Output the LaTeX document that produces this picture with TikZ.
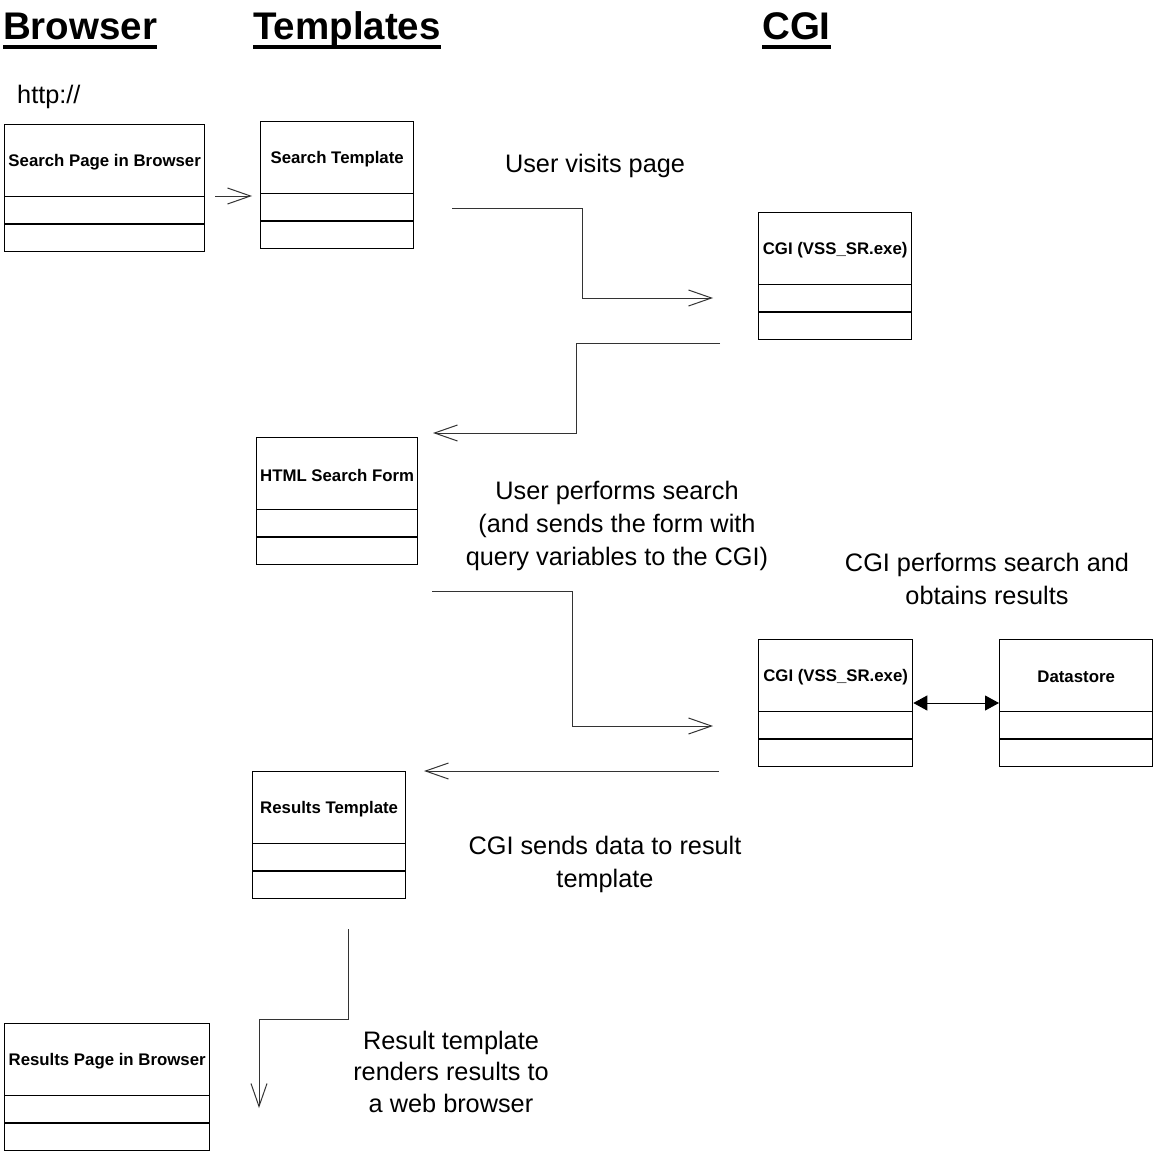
\documentclass[tikz,border=0pt]{standalone}
\usepackage{fontspec}
\setmainfont{Liberation Sans}
\usetikzlibrary{arrows.meta,calc}

\tikzset{
  heading/.style={font=\fontsize{38.5pt}{40pt}\selectfont\bfseries, inner sep=0pt, anchor=base west},
  note/.style={font=\fontsize{25.3pt}{32.5pt}\selectfont, inner sep=0pt, align=center, anchor=base},
  classbox/.style={draw=black, line width=1.3pt, rectangle, minimum height=127pt, inner sep=0pt, anchor=north west},
  classname/.style={font=\fontsize{16.8pt}{18pt}\selectfont\bfseries, inner sep=0pt},
  divider/.style={draw=black, line width=1.3pt},
  flow/.style={draw=black!80, line width=1pt, -{Straight Barb[length=23pt,width=16pt,line width=1pt]}},
  link/.style={draw=black, line width=1pt, {Triangle[length=14pt,width=15pt]}-{Triangle[length=14pt,width=15pt]}}
}

% a class box: name, top-left corner, width, title
\newcommand{\classbox}[5]{%
  \node[classbox, minimum width=#4pt] (#1) at (#2,#3) {};
  \node[classname] (#1-t) at ($(#1.north)+(0,38)$) {#5};
  \draw[divider] ([yshift=-72.5pt]#1.north west) -- ([yshift=-72.5pt]#1.north east);
  \draw[divider] ([yshift=-100pt]#1.north west) -- ([yshift=-100pt]#1.north east);
}

\begin{document}
\begin{tikzpicture}[x=1pt, y=-1pt]
\useasboundingbox (0,0) rectangle (1153,1153);

% column headings
\node[heading] (hb) at (3,40) {Browser};
\node[heading] (ht) at (253,40) {Templates};
\node[heading] (hc) at (762,40) {CGI};
\foreach \h in {hb,ht,hc}
  \draw[line width=4pt] ([yshift=-7pt]\h.base west) -- ([yshift=-7pt]\h.base east);

\node[font=\fontsize{25.3pt}{30pt}\selectfont, inner sep=0pt, anchor=base west] (url) at (17,104) {http://};

% boxes
\classbox{spb}{4}{124}{200}{Search Page in Browser}
\classbox{stpl}{260}{121}{153}{Search Template}
\classbox{cgia}{758}{212}{153}{CGI (VSS\_SR.exe)}
\classbox{form}{256}{437}{161}{HTML Search Form}
\classbox{cgib}{758}{639}{154}{CGI (VSS\_SR.exe)}
\classbox{ds}{999}{639}{153}{Datastore}
\classbox{rtpl}{252}{771}{153}{Results Template}
\classbox{rpb}{4}{1023}{205}{Results Page in Browser}

% connector end points
\coordinate (a0s) at (215,196);  \coordinate (a0e) at (252,196);
\coordinate (a1s) at (452,208);  \coordinate (a1e) at (713,298);
\coordinate (a2s) at (720,343);  \coordinate (a2e) at (433,433);
\coordinate (a3s) at (432,591);  \coordinate (a3e) at (713,726);
\coordinate (a4s) at (719,771);  \coordinate (a4e) at (424,771);
\coordinate (a5s) at (348,929);  \coordinate (a5e) at (259,1108);

% connectors
\draw[flow] (a0s) -- (a0e);
\draw[flow] (a1s) -- (582,208) -- (582,298) -- (a1e);
\draw[flow] (a2s) -- (576,343) -- (576,433) -- (a2e);
\draw[flow] (a3s) -- (572,591) -- (572,726) -- (a3e);
\draw[flow] (a4s) -- (a4e);
\draw[flow] (a5s) -- (348,1019) -- (259,1019) -- (a5e);
\draw[link] (cgib.east |- 0,703) -- (ds.west |- 0,703);

% step descriptions (anchored at the baseline of the last line)
\node[note] (n1) at (595,172) {User visits page};
\node[note, font=\fontsize{25.3pt}{33pt}\selectfont] (n2) at (617,565) {User performs search\\(and sends the form with\\query variables to the CGI)};
\node[note] (n3) at (987,604) {CGI performs search and\\obtains results};
\node[note] (n4) at (605,887) {CGI sends data to result\\template};
\node[note, font=\fontsize{25.3pt}{31.5pt}\selectfont] (n5) at (451,1112) {Result template\\renders results to\\a web browser};
\end{tikzpicture}
\end{document}
